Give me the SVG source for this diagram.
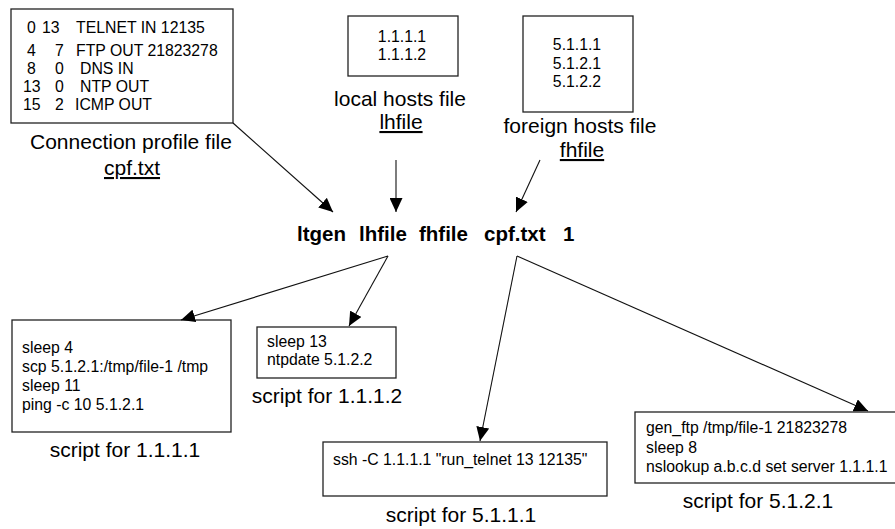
<svg xmlns="http://www.w3.org/2000/svg" width="895" height="529" viewBox="0 0 895 529">
<style>
text{font-family:"Liberation Sans",Arial,sans-serif;fill:#000}
.bt{font-size:15.8px}
.lb{font-size:21px}
.mid{text-anchor:middle}
.u{text-decoration:underline}
.cmd{font-size:20.5px;font-weight:bold}
.box{fill:#fff;stroke:#222;stroke-width:1.3}
.con{stroke:#111;stroke-width:1.1;fill:none;marker-end:url(#ah)}
</style>
<defs>
<marker id="ah" markerUnits="userSpaceOnUse" markerWidth="15" markerHeight="13" refX="14" refY="6.5" orient="auto" viewBox="0 0 15 13">
<path d="M0,0 L14,6.5 L0,13 Z" fill="#000"/>
</marker>
</defs>
<rect width="895" height="529" fill="#fff"/>

<g id="cpf">
<rect class="box" x="11" y="9" width="222" height="114"/>
<text class="bt"><tspan x="27" y="33">0</tspan><tspan x="42" y="33">13</tspan><tspan x="76" y="33">TELNET IN 12135</tspan></text>
<text class="bt"><tspan x="27" y="56">4</tspan><tspan x="55" y="56">7</tspan><tspan x="76" y="56">FTP OUT 21823278</tspan></text>
<text class="bt"><tspan x="27" y="74">8</tspan><tspan x="55" y="74">0</tspan><tspan x="80" y="74">DNS IN</tspan></text>
<text class="bt"><tspan x="23" y="92">13</tspan><tspan x="55" y="92">0</tspan><tspan x="80" y="92">NTP OUT</tspan></text>
<text class="bt"><tspan x="23" y="110">15</tspan><tspan x="55" y="110">2</tspan><tspan x="75" y="110">ICMP OUT</tspan></text>
<text class="lb mid" x="131" y="149">Connection profile file</text>
<text class="lb mid u" x="132" y="175">cpf.txt</text>
</g>

<g id="lhfile">
<rect class="box" x="348" y="16" width="110" height="60"/>
<text class="bt mid" x="402" y="42">1.1.1.1</text>
<text class="bt mid" x="402" y="60">1.1.1.2</text>
<text class="lb mid" x="400" y="106">local hosts file</text>
<text class="lb mid u" x="401" y="129">lhfile</text>
</g>

<g id="fhfile">
<rect class="box" x="523" y="16" width="110" height="96"/>
<text class="bt mid" x="577" y="50">5.1.1.1</text>
<text class="bt mid" x="577" y="69">5.1.2.1</text>
<text class="bt mid" x="577" y="87">5.1.2.2</text>
<text class="lb mid" x="580" y="133">foreign hosts file</text>
<text class="lb mid u" x="582" y="157">fhfile</text>
</g>

<g id="command">
<text class="cmd" y="241"><tspan x="297">ltgen</tspan><tspan x="359">lhfile</tspan><tspan x="419">fhfile</tspan><tspan x="484">cpf.txt</tspan><tspan x="563">1</tspan></text>
</g>

<g id="script-1111">
<rect class="box" x="12" y="320" width="219" height="112"/>
<text class="bt" x="22" y="353">sleep 4</text>
<text class="bt" x="22" y="372">scp 5.1.2.1:/tmp/file-1 /tmp</text>
<text class="bt" x="22" y="391">sleep 11</text>
<text class="bt" x="22" y="410">ping -c 10 5.1.2.1</text>
<text class="lb mid" x="125" y="457">script for 1.1.1.1</text>
</g>

<g id="script-1112">
<rect class="box" x="257" y="327" width="139" height="51"/>
<text class="bt" x="267" y="347">sleep 13</text>
<text class="bt" x="267" y="365">ntpdate 5.1.2.2</text>
<text class="lb mid" x="327" y="403">script for 1.1.1.2</text>
</g>

<g id="script-5111">
<rect class="box" x="323" y="442" width="284" height="54"/>
<text class="bt" x="333" y="465">ssh -C 1.1.1.1 "run_telnet 13 12135"</text>
<text class="lb mid" x="461" y="522">script for 5.1.1.1</text>
</g>

<g id="script-5121">
<rect class="box" x="635" y="412" width="270" height="71"/>
<text class="bt" x="646" y="433">gen_ftp /tmp/file-1 21823278</text>
<text class="bt" x="646" y="453">sleep 8</text>
<text class="bt" x="646" y="472">nslookup a.b.c.d set server 1.1.1.1</text>
<text class="lb mid" x="758" y="508">script for 5.1.2.1</text>
</g>

<g id="connectors">
<line class="con" x1="233" y1="123" x2="333" y2="212"/>
<line class="con" x1="396" y1="160" x2="396" y2="212"/>
<line class="con" x1="540" y1="160" x2="516" y2="212"/>
<line class="con" x1="388" y1="256" x2="181" y2="320"/>
<line class="con" x1="388" y1="256" x2="349" y2="326"/>
<line class="con" x1="517" y1="256" x2="480" y2="441"/>
<line class="con" x1="517" y1="256" x2="868" y2="411"/>
</g>
</svg>
